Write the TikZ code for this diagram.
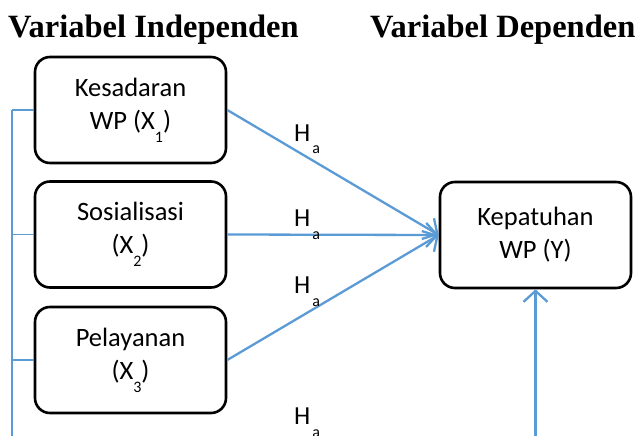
\documentclass[tikz,border=0pt]{standalone}
\usepackage{fontspec}
\setmainfont{Carlito}
\newfontfamily\hdrfont{Liberation Serif}
\usetikzlibrary{arrows.meta}
\definecolor{lblue}{HTML}{5B9BD5}
\newcommand{\subl}[1]{\raisebox{-13pt}{\fontsize{16}{16}\selectfont #1}}
\tikzset{
  varbox/.style={draw=black, line width=2.6pt, rounded corners=15pt, minimum width=191pt, minimum height=106pt, align=center, font=\fontsize{26.5}{33}\selectfont, inner sep=0pt},
  link/.style={draw=lblue, line width=1.6pt},
  arr/.style={draw=lblue, line width=2.3pt, -{Straight Barb[length=11pt, width=24pt, line width=2.3pt]}},
  halbl/.style={anchor=base west, inner sep=0pt, font=\fontsize{26}{30}\selectfont},
  hdr/.style={anchor=base west, inner sep=0pt, font=\hdrfont\bfseries\fontsize{32.5}{36}\selectfont}
}
\begin{document}
\begin{tikzpicture}[x=1pt,y=-1pt]
\useasboundingbox (0,0) rectangle (635,436);
\node[hdr] (h1) at (8,38) {Variabel Independen};
\node[hdr] (h2) at (370,38) {Variabel Dependen};
\node[varbox] (x1) at (130.5,110) {Kesadaran\\WP (X\subl{1})};
\node[varbox] (x2) at (130.5,234.5) {Sosialisasi\\(X\subl{2})};
\node[varbox] (x3) at (130.5,360) {Pelayanan\\(X\subl{3})};
\node[varbox] (y) at (535.5,235) {Kepatuhan\\WP (Y)};
\coordinate (lt) at (12,110);
\coordinate (l2) at (12,234.5);
\coordinate (l3) at (12,360);
\coordinate (lb) at (12,437);
\coordinate (vb) at (535.5,437);
\draw[link] (lt) -- (lb);
\draw[link] (lt) -- (x1.west);
\draw[link] (l2) -- (x2.west);
\draw[link] (l3) -- (x3.west);
\draw[arr] (x1.east) -- (y.west);
\draw[arr] (x2.east) -- (y.west);
\draw[arr] (x3.east) -- (y.west);
\draw[arr] (vb) -- (y.south);
\node[halbl] (ha1) at (294,141) {H\hspace{2pt}\subl{a}};
\node[halbl] (ha2) at (294,226) {H\hspace{2pt}\subl{a}};
\node[halbl] (ha3) at (294,293) {H\hspace{2pt}\subl{a}};
\node[halbl] (ha4) at (294,424) {H\hspace{2pt}\subl{a}};
\end{tikzpicture}
\end{document}
